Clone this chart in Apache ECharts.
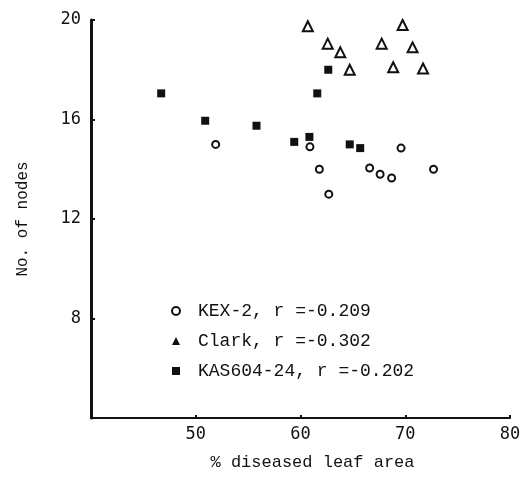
<!DOCTYPE html>
<html>
<head>
<meta charset="utf-8">
<script src="https://cdn.jsdelivr.net/npm/echarts@6/dist/echarts.min.js"></script>
<style>
  html, body { margin: 0; padding: 0; background: #fff; }
  #chart { width: 526px; height: 487px; }
</style>
</head>
<body>
<div id="chart"></div>
<script>
// values: [ % diseased leaf area, no. of nodes ]
var kex2 = [
  [51.9, 15.0], [60.9, 14.9], [61.8, 14.0], [62.7, 13.0], [66.6, 14.05],
  [67.6, 13.8], [68.7, 13.65], [69.6, 14.85], [72.7, 14.0]
];
var clark = [
  [60.7, 19.75], [69.75, 19.8], [62.6, 19.05], [67.75, 19.05], [70.7, 18.9],
  [63.8, 18.7], [64.7, 18.0], [68.85, 18.1], [71.7, 18.05]
];
var kas60424 = [
  [62.65, 18.0], [46.7, 17.05], [61.6, 17.05], [50.9, 15.95], [55.8, 15.75],
  [59.4, 15.1], [60.85, 15.3], [64.7, 15.0], [65.7, 14.85]
];
var seriesNames = ['KEX-2, r =-0.209', 'Clark, r =-0.302', 'KAS604-24, r =-0.202'];
var xTicks = [40, 80, 10];   // min, max, step
var yTicks = [4, 20, 4];

var mono = 'Liberation Mono';
var ink = '#111';

var chart = echarts.init(document.getElementById('chart'));

var option = {
  backgroundColor: '#fff',
  animation: false,
  grid: { left: 91, right: 16, top: 20, bottom: 69 },
  legend: {
    orient: 'vertical',
    left: 166,
    top: 297,
    itemWidth: 8,
    itemHeight: 8,
    itemGap: 12,
    textStyle: { fontFamily: mono, fontSize: 18, color: ink, padding: [0, 0, 0, 13] },
    data: [
      { name: seriesNames[0], icon: 'circle',
        itemStyle: { color: '#fff', borderColor: ink, borderWidth: 2 } },
      { name: seriesNames[1], icon: 'triangle', itemStyle: { color: ink, borderWidth: 0 } },
      { name: seriesNames[2], icon: 'rect', itemStyle: { color: ink, borderWidth: 0 } }
    ]
  },
  xAxis: {
    type: 'value',
    min: xTicks[0], max: xTicks[1], interval: xTicks[2],
    name: '% diseased leaf area',
    nameLocation: 'middle',
    nameGap: 36,
    nameTextStyle: { fontFamily: mono, fontSize: 17, color: ink, padding: [0, 0, 0, 24] },
    axisLine: { lineStyle: { color: ink, width: 2 } },
    axisTick: { show: true, inside: true, length: 3, lineStyle: { color: ink, width: 2 } },
    axisLabel: { showMinLabel: false, margin: 8, fontFamily: 'DejaVu Sans Mono', fontSize: 17, color: ink },
    splitLine: { show: false }
  },
  yAxis: {
    type: 'value',
    min: yTicks[0], max: yTicks[1], interval: yTicks[2],
    name: 'No. of nodes',
    nameLocation: 'middle',
    nameGap: 60,
    nameTextStyle: { fontFamily: mono, fontSize: 16, color: ink },
    axisLine: { lineStyle: { color: ink, width: 3 } },
    axisTick: { show: true, inside: true, length: 4, lineStyle: { color: ink, width: 2 } },
    axisLabel: { showMinLabel: false, margin: 10, fontFamily: 'DejaVu Sans Mono', fontSize: 17, color: ink },
    splitLine: { show: false }
  },
  series: [
    {
      name: seriesNames[0],
      type: 'scatter',
      data: kex2,
      symbol: 'circle',
      symbolSize: 7,
      itemStyle: { color: '#fff', borderColor: ink, borderWidth: 2, opacity: 1 }
    },
    {
      name: seriesNames[1],
      type: 'scatter',
      data: clark,
      symbol: 'triangle',
      symbolSize: 10,
      itemStyle: { color: '#fff', borderColor: ink, borderWidth: 2, opacity: 1 }
    },
    {
      name: seriesNames[2],
      type: 'scatter',
      data: kas60424,
      symbol: 'rect',
      symbolSize: 8,
      itemStyle: { color: ink, opacity: 1 }
    }
  ]
};

chart.setOption(option);
</script>
</body>
</html>
